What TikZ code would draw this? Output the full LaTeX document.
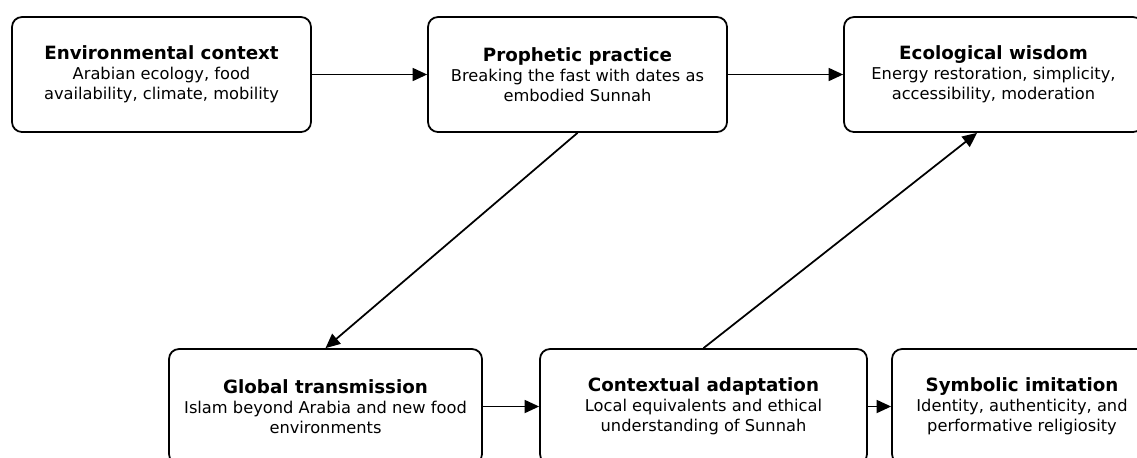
\documentclass[tikz,border=0pt]{standalone}
\usepackage{fontspec}
\setmainfont{DejaVu Sans}
\usetikzlibrary{arrows.meta}

\newcommand{\boxtitle}[1]{{\fontsize{10.4}{12.8}\selectfont\bfseries #1}}

\begin{document}
\begin{tikzpicture}[
  stage/.style={draw, rounded corners=2mm, line width=1pt, fill=white,
    minimum height=2.3cm, align=center, inner sep=2pt,
    font=\fontsize{9.25}{11.4}\selectfont},
  flow/.style={-{Triangle[length=2.9mm, width=2.6mm]}, line width=1pt}
]
  \useasboundingbox (0,0) rectangle (22.74,-9.14);
  \clip (0,0) rectangle (22.74,-9.14);

  %--- Top row ---
  \node[stage, minimum width=5.98cm] (env) at (3.23,-1.49)
    {\boxtitle{Environmental context}\\Arabian ecology, food\\availability, climate, mobility};
  \node[stage, minimum width=5.98cm] (prac) at (11.55,-1.49)
    {\boxtitle{Prophetic practice}\\Breaking the fast with dates as\\embodied Sunnah};
  \node[stage, minimum width=5.98cm] (wisd) at (19.87,-1.49)
    {\boxtitle{Ecological wisdom}\\Energy restoration, simplicity,\\accessibility, moderation};

  %--- Bottom row ---
  \node[stage, minimum width=6.26cm] (glob) at (6.51,-8.13)
    {\boxtitle{Global transmission}\\Islam beyond Arabia and new food\\environments};
  \node[stage, minimum width=6.54cm] (adap) at (14.07,-8.13)
    {\boxtitle{Contextual adaptation}\\Local equivalents and ethical\\understanding of Sunnah};
  \node[stage, minimum width=5.20cm] (symb) at (20.44,-8.13)
    {\boxtitle{Symbolic imitation}\\Identity, authenticity, and\\performative religiosity};

  % Edges
  \draw[flow] (env) -- (prac);
  \draw[flow] (prac) -- (wisd);
  \draw[flow] (prac.south) -- (glob.north);
  \draw[flow] (glob) -- (adap);
  \draw[flow] (adap) -- (symb);
  \draw[flow] (adap.north) -- ([xshift=-0.33cm]wisd.south);
\end{tikzpicture}
\end{document}
